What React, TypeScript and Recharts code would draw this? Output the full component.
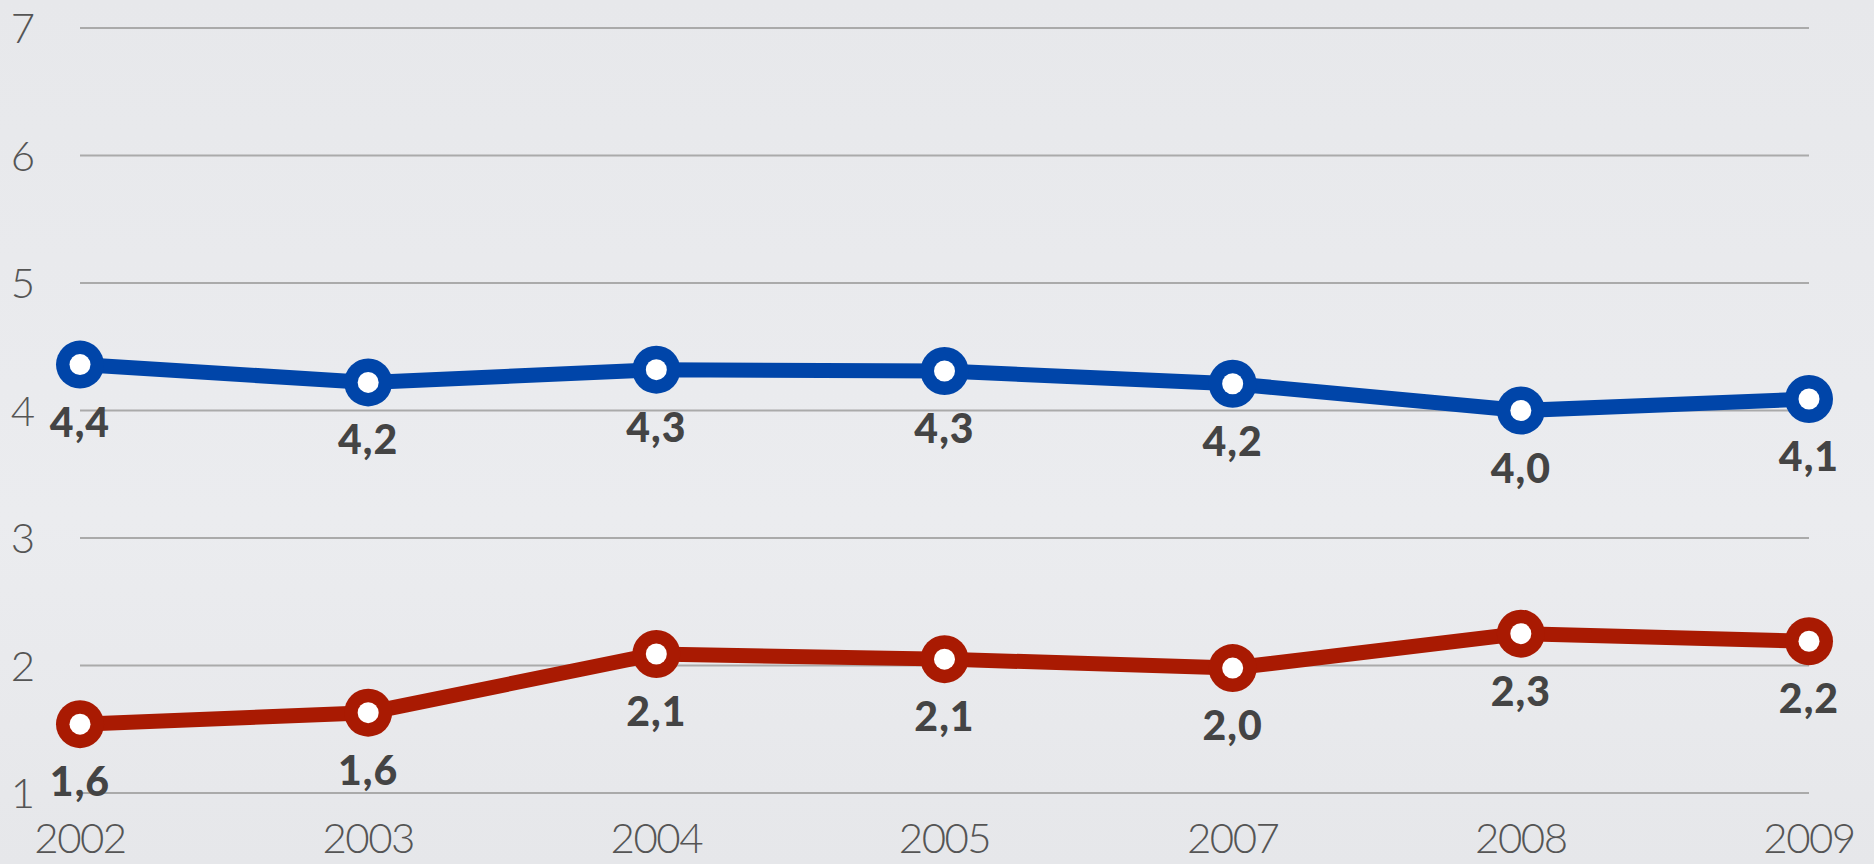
import { LineChart, Line, XAxis, YAxis, CartesianGrid, LabelList } from "recharts";

const years = ["2002", "2003", "2004", "2005", "2007", "2008", "2009"];
const blueValues = [4.36, 4.22, 4.32, 4.31, 4.21, 4.0, 4.09];
const blueLabels = ["4,4", "4,2", "4,3", "4,3", "4,2", "4,0", "4,1"];
const redValues = [1.54, 1.63, 2.09, 2.05, 1.98, 2.25, 2.19];
const redLabels = ["1,6", "1,6", "2,1", "2,1", "2,0", "2,3", "2,2"];
const yTicks = [1, 2, 3, 4, 5, 6, 7];

const BLUE = "#0045a9";
const RED = "#a91a02";
const LABEL_FONT = "Lato, 'Open Sans', sans-serif";

const data = years.map((year, i) => ({
  year,
  blue: blueValues[i],
  red: redValues[i],
  blueLabel: blueLabels[i],
  redLabel: redLabels[i],
}));

function Dot({ cx, cy, color }: { cx?: number; cy?: number; color: string }) {
  if (cx == null || cy == null) return null;
  return (
    <g>
      <circle cx={cx} cy={cy} r={24} fill={color} />
      <circle cx={cx} cy={cy} r={10.5} fill="#ffffff" />
    </g>
  );
}

function ValueLabel(props: any) {
  const { x, y, value } = props;
  return (
    <text
      x={x}
      y={y + 72}
      textAnchor="middle"
      fontFamily={LABEL_FONT}
      fontWeight={900}
      fontSize={41}
      letterSpacing={1}
      fill="#444444"
    >
      {value}
    </text>
  );
}

// custom tick: y already includes recharts' tick offset (~8px below the axis)
function YearTick({ x, y, payload }: any) {
  return (
    <text
      x={x}
      y={y + 52}
      textAnchor="middle"
      fontFamily={LABEL_FONT}
      fontWeight={300}
      fontSize={42}
      letterSpacing={-1.5}
      fill="#555555"
    >
      {payload.value}
    </text>
  );
}

function ValueTick({ y, payload }: any) {
  return (
    <text
      x={35}
      y={y + 15}
      textAnchor="end"
      fontFamily={LABEL_FONT}
      fontWeight={300}
      fontSize={42}
      fill="#555555"
    >
      {payload.value}
    </text>
  );
}

export default function App() {
  return (
    <div
      style={{
        width: 1874,
        height: 864,
        background: "linear-gradient(180deg, #e7e8eb 0%, #ebecef 60%, #e6e7ea 100%)",
      }}
    >
      <style>{`body{margin:0}`}</style>
      <LineChart
        width={1874}
        height={864}
        data={data}
        margin={{ top: 28, right: 65, bottom: 0, left: 0 }}
      >
        <CartesianGrid horizontal vertical={false} stroke="#aaaaaa" strokeWidth={2} />
        <XAxis
          dataKey="year"
          axisLine={false}
          tickLine={false}
          height={71}
          interval={0}
          tick={<YearTick />}
        />
        <YAxis
          domain={[1, 7]}
          ticks={yTicks}
          axisLine={false}
          tickLine={false}
          width={80}
          tick={<ValueTick />}
        />
        <Line
          dataKey="blue"
          stroke={BLUE}
          strokeWidth={15}
          isAnimationActive={false}
          dot={<Dot color={BLUE} />}
          activeDot={false}
        >
          <LabelList dataKey="blueLabel" content={<ValueLabel />} />
        </Line>
        <Line
          dataKey="red"
          stroke={RED}
          strokeWidth={15}
          isAnimationActive={false}
          dot={<Dot color={RED} />}
          activeDot={false}
        >
          <LabelList dataKey="redLabel" content={<ValueLabel />} />
        </Line>
      </LineChart>
    </div>
  );
}
